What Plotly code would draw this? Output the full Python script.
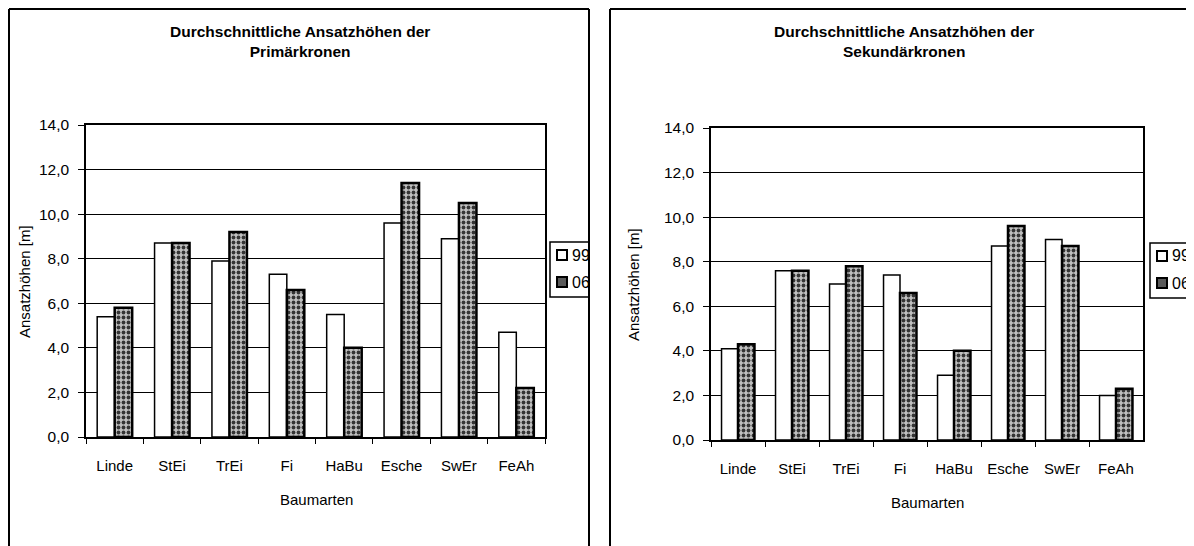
import plotly.graph_objects as go

# Baumarten and mean crown base heights [m]
baumarten = ['Linde', 'StEi', 'TrEi', 'Fi', 'HaBu', 'Esche', 'SwEr', 'FeAh']

prim_99 = [5.4, 8.7, 7.9, 7.3, 5.5, 9.6, 8.9, 4.7]
prim_06 = [5.8, 8.7, 9.2, 6.6, 4.0, 11.4, 10.5, 2.2]

sek_99 = [4.1, 7.6, 7.0, 7.4, 2.9, 8.7, 9.0, 2.0]
sek_06 = [4.3, 7.6, 7.8, 6.6, 4.0, 9.6, 8.7, 2.3]

y_ticks = [0, 2, 4, 6, 8, 10, 12, 14]
series_names = ['99', '06']

# the page body has an 8px margin, so the figure is made 8px smaller
# and all positions below are given in window pixels minus that offset
OFF = 8
W, H = 1194 - OFF, 546 - OFF
FONT = 'Liberation Sans, Arial, sans-serif'
COL_99 = 'white'
COL_06 = '#a4a4a4'


def px(x):
    return (x - OFF) / W


def py(y):
    return 1 - (y - OFF) / H


fig = go.Figure()

panels = [
    (prim_99, prim_06, 'x', 'y'),
    (sek_99, sek_06, 'x2', 'y2'),
]
for v99, v06, xa, ya in panels:
    fig.add_trace(go.Bar(x=baumarten, y=v99, name=series_names[0], xaxis=xa, yaxis=ya,
                         showlegend=False,
                         marker=dict(color=COL_99, line=dict(color='black', width=1.5))))
    fig.add_trace(go.Bar(x=baumarten, y=v06, name=series_names[1], xaxis=xa, yaxis=ya,
                         showlegend=False,
                         marker=dict(color=COL_06, line=dict(color='black', width=2.5),
                                     pattern=dict(shape='.', fgcolor='#353535', bgcolor='#c0c0c0',
                                                  size=5, solidity=0.45))))

xcommon = dict(showline=True, linecolor='black', linewidth=1.5, mirror=True,
               ticks='outside', tickson='boundaries', ticklen=5, tickcolor='black',
               tickfont=dict(family=FONT, size=15, color='black'), ticklabelstandoff=14,
               tickangle=0, showgrid=False, fixedrange=True, automargin=False)
ycommon = dict(range=[0, 14], tickvals=y_ticks, tickformat='.1f',
               showline=True, linecolor='black', linewidth=1.5, mirror=True,
               ticks='outside', ticklen=6, tickcolor='black',
               tickfont=dict(family=FONT, size=15.5, color='black'), ticklabelstandoff=6,
               showgrid=True, gridcolor='black', gridwidth=1, zeroline=False, fixedrange=True,
               automargin=False)

fig.update_layout(
    template='none',
    width=W, height=H,
    margin=dict(l=0, r=0, t=0, b=0, autoexpand=False),
    paper_bgcolor='white', plot_bgcolor='white',
    separators=',.',
    barmode='group', bargap=0.39, bargroupgap=0,
    font=dict(family=FONT, size=14, color='black'),
    showlegend=False,
    xaxis=dict(domain=[px(86), px(545)], anchor='y', **xcommon),
    yaxis=dict(domain=[py(437), py(125)], anchor='x', **ycommon),
    xaxis2=dict(domain=[px(711), px(1143)], anchor='y2', **xcommon),
    yaxis2=dict(domain=[py(440), py(128)], anchor='x2', **ycommon),
)

# chart titles
titles = [
    ('Durchschnittliche Ansatzhöhen der<br>Primärkronen', 300),
    ('Durchschnittliche Ansatzhöhen der<br>Sekundärkronen', 904),
]
for txt, cx in titles:
    fig.add_annotation(text='<b>' + txt + '</b>', x=px(cx), y=py(41), xref='paper', yref='paper',
                       showarrow=False, font=dict(family=FONT, size=15.5), xanchor='center',
                       yanchor='middle')

# axis titles
for cx, cy in [(24, 282), (633, 285)]:
    fig.add_annotation(text='Ansatzhöhen [m]', x=px(cx), y=py(cy), xref='paper', yref='paper',
                       showarrow=False, textangle=-90, xanchor='center', yanchor='middle',
                       font=dict(family=FONT, size=15))
for cx, cy in [(316, 499), (927, 502)]:
    fig.add_annotation(text='Baumarten', x=px(cx), y=py(cy), xref='paper', yref='paper',
                       showarrow=False, xanchor='center', yanchor='middle',
                       font=dict(family=FONT, size=15))

# legends (compact, as in the original; right parts cut by the panel frame)
for bx, by in [(550, 242), (1150, 243)]:
    fig.add_shape(type='rect', xref='paper', yref='paper',
                  x0=px(bx), y0=py(by), x1=px(bx + 50), y1=py(by + 55),
                  line=dict(color='black', width=1.5), fillcolor='white', layer='above')
    for i, (name, col) in enumerate(zip(series_names, [COL_99, '#5a5a5a'])):
        cy = by + 13 + 27 * i
        fig.add_shape(type='rect', xref='paper', yref='paper',
                      x0=px(bx + 7), y0=py(cy - 5), x1=px(bx + 17), y1=py(cy + 5),
                      line=dict(color='black', width=2), fillcolor=col, layer='above')
        fig.add_annotation(text=name, x=px(bx + 20), y=py(cy), xref='paper', yref='paper',
                           xanchor='left', yanchor='middle', showarrow=False,
                           font=dict(family=FONT, size=16))

# blank strip between the two panels hides the left legend overflow
fig.add_shape(type='rect', xref='paper', yref='paper', x0=px(590), y0=py(200), x1=px(609),
              y1=py(330), line=dict(width=0), fillcolor='white', layer='above')

# panel frames (left/top edges sit at the figure border)
frame = dict(color='black', width=2)
for x0, y0, x1, y1 in [(9, 9, 9, 560), (9, 9, 589, 9), (589, 9, 589, 560),
                       (610, 9, 610, 560), (610, 9, 1190, 9), (1190, 9, 1190, 560)]:
    fig.add_shape(type='line', xref='paper', yref='paper',
                  x0=px(x0), y0=py(y0), x1=px(x1), y1=py(y1), line=frame, layer='above')

fig.write_html("out.html")
